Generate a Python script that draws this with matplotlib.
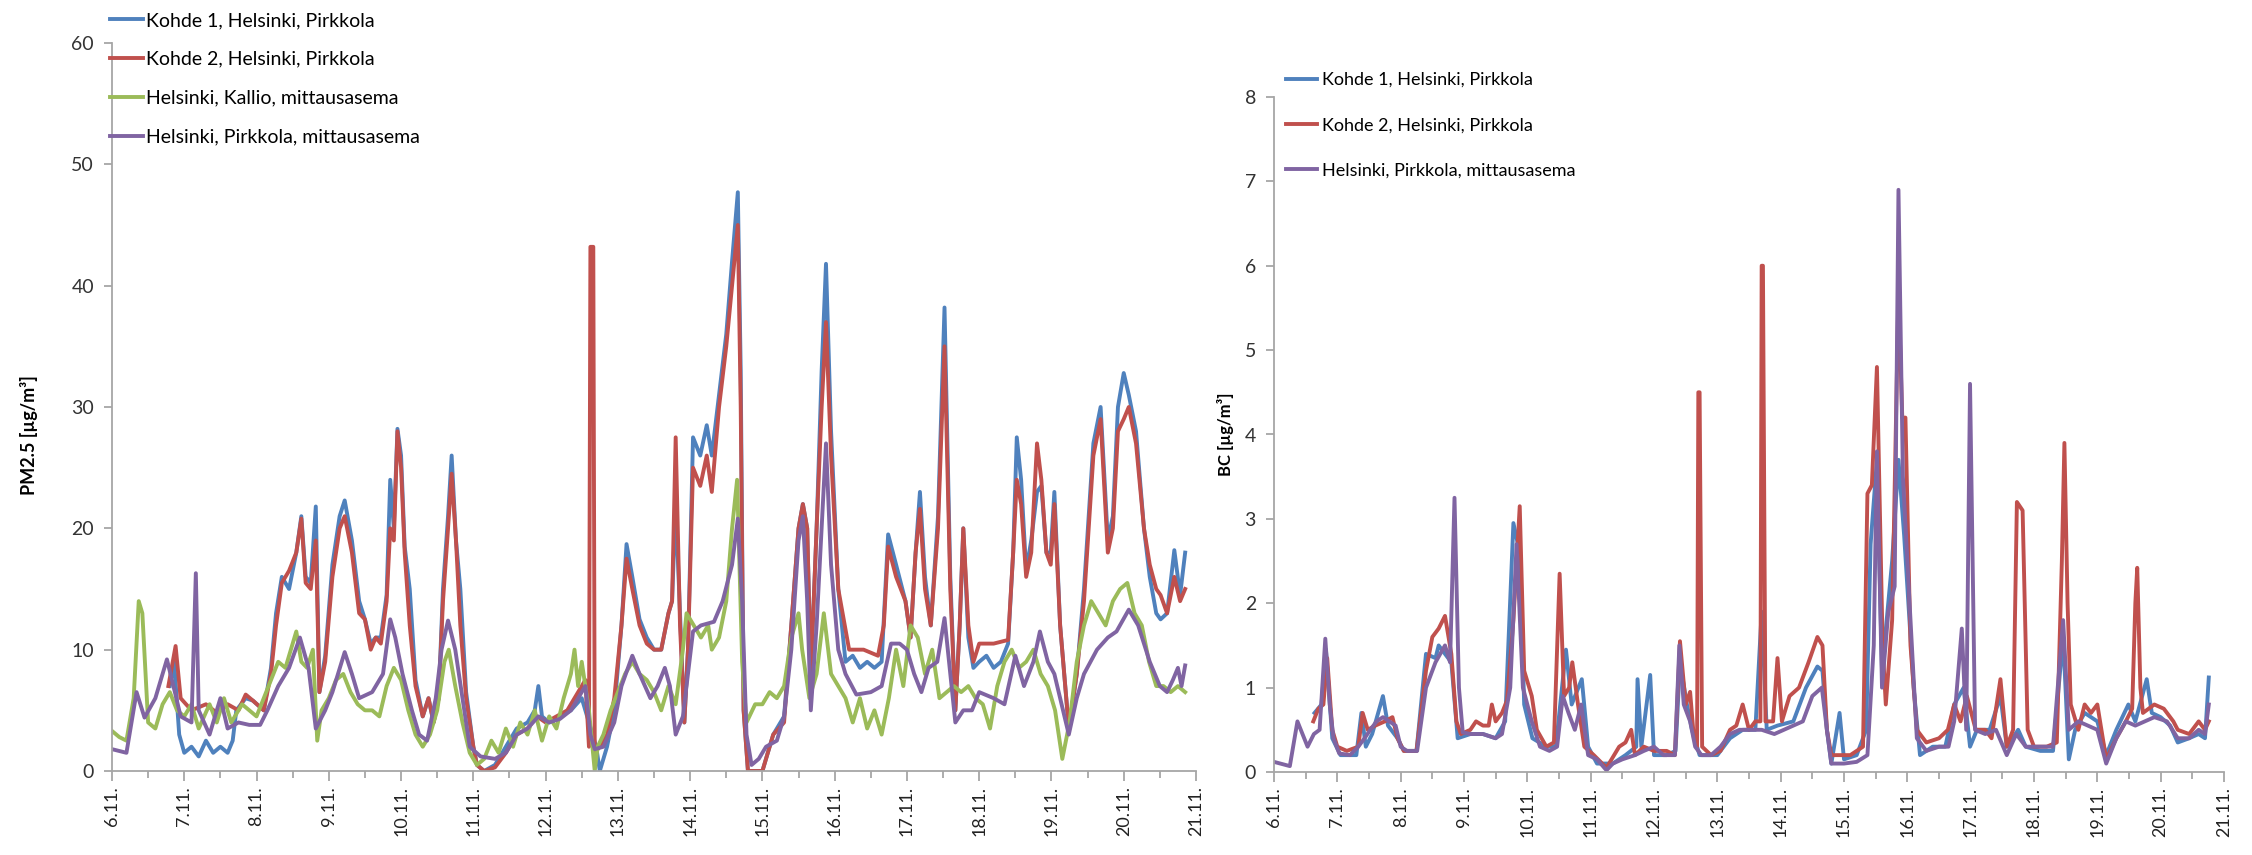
import matplotlib
matplotlib.use("Agg")
import matplotlib.pyplot as plt
from matplotlib.ticker import MultipleLocator

# aika: vuorokausia alkaen 6.11. klo 00
day_labels = [f"{d}.11." for d in range(6, 22)]

labels_pm = ["Kohde 1, Helsinki, Pirkkola", "Kohde 2, Helsinki, Pirkkola",
             "Helsinki, Kallio, mittausasema", "Helsinki, Pirkkola, mittausasema"]
labels_bc = ["Kohde 1, Helsinki, Pirkkola", "Kohde 2, Helsinki, Pirkkola",
             "Helsinki, Pirkkola, mittausasema"]

# ---- PM2.5 ----
t_k1_pm = [0.8, 0.86, 0.93, 1.0, 1.1, 1.2, 1.3, 1.4, 1.5, 1.6,
           1.67, 1.72, 1.85, 1.95, 2.1, 2.2, 2.27, 2.35, 2.45, 2.55,
           2.62, 2.68, 2.75, 2.82, 2.87, 2.95, 3.05, 3.15, 3.22, 3.32,
           3.42, 3.5, 3.58, 3.65, 3.72, 3.8, 3.85, 3.9, 3.95, 4.0,
           4.05, 4.12, 4.2, 4.3, 4.38, 4.45, 4.52, 4.58, 4.65, 4.7,
           4.76, 4.82, 4.9, 5.0, 5.05, 5.15, 5.3, 5.45, 5.6, 5.75,
           5.85, 5.9, 5.95, 6.05, 6.2, 6.35, 6.5, 6.6, 6.7, 6.75,
           6.85, 6.95, 7.05, 7.12, 7.2, 7.3, 7.4, 7.5, 7.6, 7.7,
           7.75, 7.8, 7.86, 7.92, 7.97, 8.04, 8.14, 8.23, 8.3, 8.4,
           8.5, 8.58, 8.66, 8.7, 8.74, 8.8, 9.0, 9.15, 9.3, 9.4,
           9.5, 9.56, 9.62, 9.67, 9.75, 9.82, 9.88, 9.95, 10.05, 10.15,
           10.25, 10.35, 10.45, 10.55, 10.65, 10.74, 10.85, 10.98, 11.05, 11.12,
           11.18, 11.25, 11.33, 11.43, 11.52, 11.6, 11.67, 11.73, 11.78, 11.85,
           11.92, 12.0, 12.1, 12.2, 12.3, 12.4, 12.47, 12.52, 12.58, 12.65,
           12.72, 12.8, 12.86, 12.93, 12.99, 13.04, 13.12, 13.24, 13.35, 13.45,
           13.58, 13.68, 13.78, 13.85, 13.92, 14.0, 14.07, 14.17, 14.28, 14.36,
           14.45, 14.51, 14.6, 14.7, 14.78, 14.85]
v_k1_pm = [7, 9, 3, 1.5, 2, 1.2, 2.5, 1.5, 2, 1.5,
           2.5, 5, 6, 5.8, 5, 8.5, 13, 16, 15, 18,
           21, 16, 15.5, 21.8, 6.5, 9.5, 17, 21, 22.3, 19,
           14, 12.5, 10.5, 11, 11, 14.5, 24, 20, 28.2, 26,
           18.5, 15, 7.5, 4.5, 6, 4, 6, 15, 21, 26,
           19, 15, 6.5, 2, 0.5, 0, 0.5, 2, 3.5, 4,
           5, 7, 4.5, 4, 4.5, 5, 6, 4, 2, 0,
           2, 5, 12, 18.7, 16, 12.5, 11, 10, 10, 13,
           14, 22, 13, 4, 10, 27.5, 26, 28.5, 26, 31,
           36, 42, 47.7, 33, 5, 0, 0, 3, 4.5, 12,
           20, 22, 20, 8, 20, 33, 41.8, 28, 15, 9,
           9.5, 8.5, 9, 8.5, 9, 19.5, 17, 14, 11, 18,
           23, 16, 12, 21, 38.2, 16, 5, 12, 20, 11,
           8.5, 9, 9.5, 8.5, 9, 10.5, 18, 27.5, 24, 16.5,
           19, 23, 23.5, 18, 18, 23, 12, 3.5, 8, 15,
           27, 30, 19, 21, 30, 32.8, 31, 28, 20, 16,
           13, 12.5, 13, 18.2, 14.5, 18]

t_k2_pm = [0.78, 0.88, 0.95, 1.1, 1.3, 1.45, 1.6, 1.75, 1.85, 1.95,
           2.1, 2.2, 2.27, 2.35, 2.45, 2.55, 2.62, 2.68, 2.75, 2.82,
           2.87, 2.95, 3.05, 3.15, 3.22, 3.32, 3.42, 3.5, 3.58, 3.65,
           3.72, 3.8, 3.85, 3.9, 3.95, 4.0, 4.05, 4.12, 4.2, 4.3,
           4.38, 4.45, 4.52, 4.58, 4.65, 4.7, 4.76, 4.82, 4.9, 5.0,
           5.05, 5.15, 5.3, 5.45, 5.6, 5.75, 5.88, 6.0, 6.15, 6.3,
           6.45, 6.55, 6.6, 6.62, 6.66, 6.68, 6.75, 6.85, 6.95, 7.05,
           7.12, 7.2, 7.3, 7.4, 7.5, 7.6, 7.7, 7.75, 7.8, 7.86,
           7.92, 7.97, 8.04, 8.14, 8.23, 8.3, 8.4, 8.5, 8.58, 8.66,
           8.7, 8.74, 8.8, 9.0, 9.15, 9.3, 9.4, 9.5, 9.56, 9.62,
           9.67, 9.75, 9.82, 9.88, 9.95, 10.05, 10.2, 10.4, 10.6, 10.68,
           10.74, 10.85, 10.98, 11.05, 11.12, 11.18, 11.25, 11.33, 11.43, 11.52,
           11.6, 11.67, 11.73, 11.78, 11.85, 11.92, 12.0, 12.2, 12.4, 12.47,
           12.52, 12.58, 12.65, 12.72, 12.8, 12.86, 12.93, 12.99, 13.04, 13.12,
           13.24, 13.35, 13.45, 13.58, 13.68, 13.78, 13.85, 13.92, 14.0, 14.07,
           14.17, 14.28, 14.36, 14.45, 14.51, 14.6, 14.7, 14.78, 14.85]
v_k2_pm = [7, 10.3, 6, 5, 5.5, 4.8, 5.5, 5, 6.3, 5.8,
           5, 8, 12, 15.5, 16.5, 18, 20.8, 15.5, 15, 19,
           6.5, 9, 16, 20, 21, 18, 13, 12.5, 10, 11,
           10.5, 14, 20, 19, 28, 25, 18, 12, 7, 4.5,
           6, 4, 6, 14, 20, 24.5, 19, 12, 6, 2,
           0.5, 0, 0.3, 1.5, 3, 3.5, 4.5, 4, 4.5, 5,
           6.5, 7.5, 2, 43.2, 43.2, 1.5, 2, 3, 6, 12,
           17.5, 15, 12, 10.5, 10, 10, 13, 14, 27.5, 12,
           4, 10, 25, 23.5, 26, 23, 30, 35, 40, 45,
           30, 5, 0, 0, 3, 4, 12, 20, 22, 20,
           8, 20, 30, 37, 26, 15, 10, 10, 9.5, 12,
           18.5, 16, 14, 11, 18, 21.6, 15, 12, 20, 35,
           15, 5, 12, 20, 12, 9, 10.5, 10.5, 10.8, 18,
           24, 22, 16, 18, 27, 24, 18, 17, 22, 12,
           3.5, 8, 14, 26, 29, 18, 20, 28, 29, 30,
           27, 20, 17, 15, 14.5, 13, 16, 14, 15]

t_kallio_pm = [0, 0.1, 0.2, 0.3, 0.37, 0.42, 0.5, 0.6, 0.7, 0.8,
               0.9, 1.0, 1.1, 1.2, 1.35, 1.45, 1.55, 1.65, 1.8, 1.9,
               2.0, 2.1, 2.2, 2.3, 2.4, 2.5, 2.55, 2.62, 2.7, 2.78,
               2.84, 2.9, 3.0, 3.1, 3.2, 3.3, 3.4, 3.5, 3.6, 3.7,
               3.8, 3.9, 4.0, 4.1, 4.2, 4.3, 4.4, 4.5, 4.6, 4.66,
               4.75, 4.85, 4.95, 5.05, 5.15, 5.25, 5.35, 5.45, 5.55, 5.65,
               5.75, 5.85, 5.95, 6.05, 6.15, 6.25, 6.35, 6.4, 6.45, 6.5,
               6.6, 6.68, 6.72, 6.8, 6.9, 7.0, 7.1, 7.2, 7.3, 7.4,
               7.5, 7.6, 7.7, 7.8, 7.9, 7.95, 8.05, 8.15, 8.25, 8.3,
               8.4, 8.5, 8.58, 8.65, 8.72, 8.78, 8.9, 9.0, 9.1, 9.2,
               9.3, 9.4, 9.5, 9.55, 9.65, 9.75, 9.85, 9.95, 10.05, 10.15,
               10.25, 10.35, 10.45, 10.55, 10.65, 10.75, 10.85, 10.95, 11.05, 11.15,
               11.25, 11.35, 11.45, 11.55, 11.65, 11.75, 11.85, 11.95, 12.05, 12.15,
               12.25, 12.35, 12.45, 12.55, 12.65, 12.75, 12.85, 12.95, 13.05, 13.15,
               13.25, 13.35, 13.45, 13.55, 13.65, 13.75, 13.85, 13.95, 14.05, 14.15,
               14.25, 14.35, 14.45, 14.55, 14.65, 14.75, 14.85]
v_kallio_pm = [3.3, 2.8, 2.5, 6, 14, 13, 4, 3.5, 5.5, 6.5,
               5, 4.5, 5.5, 3.5, 5.5, 4, 6, 4, 5.5, 5,
               4.5, 6, 7.5, 9, 8.5, 10.5, 11.5, 9, 8.5, 10,
               2.5, 5, 6, 7.5, 8, 6.5, 5.5, 5, 5, 4.5,
               7, 8.5, 7.5, 5, 3, 2, 3, 5, 9, 10,
               7, 4, 1.5, 0.5, 1, 2.5, 1.5, 3.5, 2, 4,
               3, 5, 2.5, 4.5, 3.5, 6, 8, 10, 7, 9,
               5, 0, 2, 3, 5, 6.5, 8, 9, 8, 7.5,
               6.5, 5, 7, 5.5, 10, 13, 12, 11, 12, 10,
               11, 14, 20, 24, 9, 4, 5.5, 5.5, 6.5, 6,
               7, 11, 13, 10, 6, 8, 13, 8, 7, 6,
               4, 6, 3.5, 5, 3, 6, 10, 7, 12, 11,
               8, 10, 6, 6.5, 7, 6.5, 7, 6, 5.5, 3.5,
               7, 9, 10, 8.5, 9, 10, 8, 7, 5, 1,
               4, 9, 12, 14, 13, 12, 14, 15, 15.5, 13,
               12, 9, 7, 7, 6.5, 7, 6.5]

t_pirkkola_pm = [0, 0.2, 0.34, 0.45, 0.6, 0.76, 0.85, 0.95, 1.1, 1.16,
                 1.2, 1.35, 1.5, 1.6, 1.75, 1.9, 2.05, 2.15, 2.3, 2.45,
                 2.6, 2.72, 2.82, 2.95, 3.05, 3.22, 3.32, 3.42, 3.6, 3.75,
                 3.85, 3.92, 4.02, 4.15, 4.25, 4.36, 4.48, 4.56, 4.65, 4.75,
                 4.85, 4.95, 5.1, 5.3, 5.45, 5.6, 5.75, 5.9, 6.05, 6.2,
                 6.35, 6.45, 6.55, 6.62, 6.68, 6.8, 6.95, 7.05, 7.2, 7.3,
                 7.45, 7.55, 7.65, 7.72, 7.8, 7.9, 8.04, 8.15, 8.33, 8.45,
                 8.58, 8.66, 8.72, 8.78, 8.85, 8.95, 9.05, 9.2, 9.3, 9.4,
                 9.5, 9.56, 9.62, 9.67, 9.75, 9.82, 9.88, 9.95, 10.05, 10.15,
                 10.3, 10.5, 10.65, 10.78, 10.9, 11.0, 11.1, 11.2, 11.3, 11.42,
                 11.52, 11.6, 11.67, 11.78, 11.9, 12.0, 12.2, 12.35, 12.5, 12.62,
                 12.75, 12.84, 12.95, 13.04, 13.24, 13.35, 13.45, 13.63, 13.78, 13.9,
                 14.07, 14.2, 14.36, 14.5, 14.6, 14.68, 14.75, 14.8, 14.85]
v_pirkkola_pm = [1.8, 1.5, 6.5, 4.4, 6, 9.2, 7, 4.5, 4, 16.3,
                 5, 3, 6, 3.5, 4, 3.8, 3.8, 5, 7, 8.5,
                 11, 8.5, 3.5, 5, 6.5, 9.8, 8, 6, 6.5, 8,
                 12.5, 11, 8, 5, 3, 2.5, 6, 10, 12.4, 10,
                 6, 2, 1.2, 1, 1.5, 3, 3.5, 4.5, 4, 4.3,
                 5, 6, 7, 3, 1.8, 2, 4, 7, 9.5, 8,
                 6, 7, 8.5, 7, 3, 4.5, 11.5, 12, 12.3, 14,
                 17, 20.8, 14, 3, 0.5, 1, 2, 2.5, 4.5, 10,
                 19, 21, 14, 5, 12, 20, 27, 17, 10, 8,
                 6.3, 6.5, 7, 10.5, 10.5, 10, 8, 6.5, 8.5, 9,
                 12.6, 8, 4, 5, 5, 6.5, 6, 5.5, 9.5, 7,
                 9, 11.5, 9, 8, 3, 6, 8, 10, 11, 11.5,
                 13.3, 12, 9, 7, 6.5, 7.5, 8.5, 7, 8.7]

# ---- BC ----
t_k1_bc = [0.64, 0.75, 0.82, 0.92, 1.05, 1.3, 1.38, 1.45, 1.55, 1.72,
           1.8, 1.95, 2.05, 2.25, 2.4, 2.55, 2.6, 2.7, 2.8, 2.9,
           3.1, 3.3, 3.5, 3.65, 3.78, 3.88, 3.95, 4.08, 4.3, 4.45,
           4.61, 4.7, 4.86, 4.96, 5.1, 5.35, 5.55, 5.72, 5.74, 5.8,
           5.94, 6.0, 6.2, 6.34, 6.41, 6.52, 6.6, 6.72, 7.0, 7.2,
           7.4, 7.6, 7.7, 7.78, 7.95, 8.2, 8.4, 8.58, 8.66, 8.73,
           8.8, 8.93, 9.0, 9.2, 9.35, 9.42, 9.52, 9.6, 9.76, 9.86,
           9.95, 10.1, 10.2, 10.4, 10.6, 10.74, 10.89, 10.99, 11.1, 11.3,
           11.47, 11.57, 11.75, 11.87, 12.1, 12.3, 12.46, 12.55, 12.65, 12.8,
           13.0, 13.14, 13.3, 13.49, 13.6, 13.78, 13.86, 14.0, 14.15, 14.27,
           14.45, 14.6, 14.7, 14.76]
v_k1_bc = [0.7, 0.8, 1.45, 0.4, 0.2, 0.2, 0.7, 0.3, 0.45, 0.9,
           0.55, 0.4, 0.25, 0.25, 1.4, 1.35, 1.5, 1.4, 1.3, 0.4,
           0.45, 0.45, 0.4, 0.6, 2.95, 2.6, 0.8, 0.4, 0.3, 0.3,
           1.45, 0.8, 1.1, 0.3, 0.1, 0.1, 0.2, 0.3, 1.1, 0.3,
           1.15, 0.2, 0.2, 0.25, 1.3, 0.8, 0.5, 0.2, 0.2, 0.4,
           0.5, 0.5, 1.9, 0.5, 0.55, 0.6, 1.0, 1.25, 1.2, 0.5,
           0.1, 0.7, 0.15, 0.2, 0.5, 2.7, 3.7, 1.2, 2.5, 3.7,
           2.8, 1.0, 0.2, 0.3, 0.3, 0.8, 1.0, 0.3, 0.5, 0.5,
           0.9, 0.3, 0.5, 0.3, 0.25, 0.25, 1.6, 0.15, 0.5, 0.7,
           0.6, 0.2, 0.5, 0.8, 0.6, 1.1, 0.7, 0.65, 0.55, 0.35,
           0.4, 0.45, 0.4, 1.12]

t_k2_bc = [0.62, 0.7, 0.78, 0.84, 0.92, 1.0, 1.15, 1.33, 1.4, 1.48,
           1.6, 1.75, 1.87, 1.95, 2.05, 2.25, 2.4, 2.5, 2.6, 2.7,
           2.8, 2.88, 2.95, 3.1, 3.19, 3.3, 3.39, 3.44, 3.5, 3.6,
           3.68, 3.78, 3.88, 3.95, 4.07, 4.15, 4.3, 4.42, 4.51, 4.58,
           4.66, 4.71, 4.8, 4.9, 5.05, 5.25, 5.45, 5.55, 5.64, 5.7,
           5.84, 6.0, 6.2, 6.33, 6.41, 6.5, 6.57, 6.63, 6.68, 6.7,
           6.72, 6.76, 6.9, 7.05, 7.2, 7.3, 7.4, 7.5, 7.6, 7.68,
           7.7, 7.72, 7.76, 7.88, 7.95, 8.02, 8.14, 8.29, 8.44, 8.58,
           8.66, 8.73, 8.8, 9.1, 9.3, 9.37, 9.44, 9.52, 9.61, 9.66,
           9.76, 9.86, 9.92, 9.97, 10.05, 10.15, 10.3, 10.5, 10.64, 10.74,
           10.84, 10.94, 11.08, 11.23, 11.33, 11.47, 11.57, 11.67, 11.73, 11.82,
           11.9, 12.0, 12.2, 12.36, 12.44, 12.48, 12.53, 12.58, 12.7, 12.8,
           12.9, 13.0, 13.14, 13.3, 13.45, 13.55, 13.6, 13.63, 13.68, 13.72,
           13.9, 14.05, 14.2, 14.27, 14.45, 14.6, 14.7, 14.76]
v_k2_bc = [0.6, 0.75, 0.8, 1.35, 0.5, 0.3, 0.25, 0.3, 0.7, 0.5,
           0.55, 0.6, 0.65, 0.4, 0.25, 0.25, 1.2, 1.6, 1.7, 1.85,
           1.4, 0.6, 0.45, 0.5, 0.6, 0.55, 0.55, 0.8, 0.6, 0.7,
           0.85, 1.8, 3.15, 1.2, 0.9, 0.5, 0.3, 0.35, 2.35, 0.9,
           1.0, 1.3, 0.8, 0.3, 0.2, 0.05, 0.3, 0.35, 0.5, 0.2,
           0.3, 0.25, 0.25, 0.2, 1.55, 0.8, 0.95, 0.4, 0.3, 4.5,
           4.5, 0.3, 0.2, 0.25, 0.5, 0.55, 0.8, 0.5, 0.6, 0.6,
           6.0, 6.0, 0.6, 0.6, 1.35, 0.6, 0.9, 1.0, 1.3, 1.6,
           1.5, 0.5, 0.2, 0.2, 0.3, 3.3, 3.4, 4.8, 1.5, 0.8,
           1.8, 5.7, 4.2, 4.2, 1.5, 0.5, 0.35, 0.4, 0.5, 0.8,
           0.6, 0.9, 0.5, 0.5, 0.4, 1.1, 0.3, 0.5, 3.2, 3.1,
           0.5, 0.3, 0.3, 0.35, 2.5, 3.9, 2.0, 0.8, 0.5, 0.8,
           0.7, 0.8, 0.15, 0.4, 0.6, 0.75, 2.0, 2.42, 1.0, 0.7,
           0.8, 0.75, 0.6, 0.5, 0.45, 0.6, 0.5, 0.6]

t_pirkkola_bc = [0, 0.1, 0.25, 0.37, 0.45, 0.53, 0.63, 0.72, 0.81, 0.88,
                 0.94, 1.03, 1.2, 1.33, 1.43, 1.52, 1.62, 1.72, 1.82, 1.92,
                 2.0, 2.1, 2.26, 2.4, 2.55, 2.7, 2.78, 2.85, 2.92, 2.98,
                 3.1, 3.3, 3.5, 3.6, 3.73, 3.83, 3.93, 4.07, 4.2, 4.35,
                 4.47, 4.56, 4.65, 4.75, 4.85, 4.96, 5.1, 5.25, 5.35, 5.5,
                 5.7, 5.84, 6.0, 6.15, 6.33, 6.4, 6.47, 6.57, 6.65, 6.75,
                 6.9, 7.05, 7.2, 7.35, 7.5, 7.7, 7.9, 8.05, 8.2, 8.35,
                 8.5, 8.65, 8.73, 8.8, 9.0, 9.2, 9.37, 9.47, 9.52, 9.6,
                 9.7, 9.8, 9.86, 9.93, 10.05, 10.15, 10.3, 10.5, 10.65, 10.74,
                 10.86, 10.93, 10.99, 11.07, 11.23, 11.4, 11.57, 11.72, 11.87, 12.1,
                 12.3, 12.46, 12.55, 12.7, 12.85, 13.0, 13.14, 13.3, 13.45, 13.6,
                 13.75, 13.9, 14.1, 14.27, 14.45, 14.6, 14.7, 14.76]
v_pirkkola_bc = [0.12, 0.1, 0.07, 0.6, 0.45, 0.3, 0.45, 0.5, 1.58, 0.8,
                 0.4, 0.22, 0.2, 0.3, 0.4, 0.5, 0.6, 0.65, 0.6, 0.55,
                 0.3, 0.25, 0.25, 1.0, 1.3, 1.5, 1.3, 3.25, 1.0, 0.47,
                 0.45, 0.45, 0.4, 0.45, 1.0, 2.7, 1.0, 0.6, 0.3, 0.25,
                 0.3, 0.9, 0.7, 0.5, 0.8, 0.2, 0.15, 0.02, 0.1, 0.15,
                 0.2, 0.25, 0.3, 0.2, 0.2, 1.5, 0.8, 0.6, 0.3, 0.2,
                 0.2, 0.3, 0.45, 0.5, 0.5, 0.5, 0.45, 0.5, 0.55, 0.6,
                 0.9, 1.0, 0.5, 0.1, 0.1, 0.12, 0.2, 1.5, 3.8, 1.0,
                 1.9, 2.2, 6.9, 3.5, 1.8, 0.4, 0.25, 0.3, 0.3, 0.6,
                 1.7, 0.5, 4.6, 0.5, 0.45, 0.5, 0.2, 0.45, 0.3, 0.3,
                 0.3, 1.8, 0.5, 0.6, 0.55, 0.5, 0.1, 0.4, 0.6, 0.55,
                 0.6, 0.65, 0.6, 0.4, 0.4, 0.5, 0.45, 0.8]

c_blue = "#4f81bd"
c_red = "#c0504d"
c_green = "#9bbb59"
c_purple = "#8064a2"
grey = "#a6a6a6"

plt.rcParams['font.family'] = ['Lato', 'DejaVu Sans']

fig = plt.figure(figsize=(22.52, 8.55), dpi=100)
ax1 = fig.add_axes([112 / 2252, 84 / 855, 1084 / 2252, 728 / 855])
ax2 = fig.add_axes([1274 / 2252, 83 / 855, 950 / 2252, 675 / 855])


def style(ax, ymax):
    ax.set_xlim(0, 15)
    ax.set_ylim(0, ymax)
    for s in ['top', 'right']:
        ax.spines[s].set_visible(False)
    for s in ['left', 'bottom']:
        ax.spines[s].set_color(grey)
        ax.spines[s].set_linewidth(1.3)
    ax.set_xticks(range(16))
    ax.set_xticklabels(day_labels, rotation=90)
    ax.xaxis.set_minor_locator(MultipleLocator(0.5))
    ax.tick_params(axis='x', which='major', length=7, width=1.3, color=grey,
                   pad=4, labelsize=13, labelcolor='#222222')
    ax.tick_params(axis='x', which='minor', length=5, width=1.3, color=grey)
    ax.tick_params(axis='y', length=6, width=1.3, color=grey, pad=7,
                   labelsize=14, labelcolor='#333333')


lw = 2.8
ax1.plot(t_k1_pm, v_k1_pm, color=c_blue, lw=lw, label=labels_pm[0])
ax1.plot(t_k2_pm, v_k2_pm, color=c_red, lw=lw, label=labels_pm[1])
ax1.plot(t_kallio_pm, v_kallio_pm, color=c_green, lw=lw, label=labels_pm[2])
ax1.plot(t_pirkkola_pm, v_pirkkola_pm, color=c_purple, lw=lw, label=labels_pm[3])
style(ax1, 60)
ax1.set_yticks(range(0, 61, 10))

ax2.plot(t_k1_bc, v_k1_bc, color=c_blue, lw=lw, label=labels_bc[0])
ax2.plot(t_k2_bc, v_k2_bc, color=c_red, lw=lw, label=labels_bc[1])
ax2.plot(t_pirkkola_bc, v_pirkkola_bc, color=c_purple, lw=lw, label=labels_bc[2])
style(ax2, 8)
ax2.set_yticks(range(0, 9))

ax1.legend(loc='upper left', bbox_to_anchor=(110 / 2252, 1 - 12 / 855),
           bbox_transform=fig.transFigure, frameon=False, fontsize=14,
           handlelength=1.7, handletextpad=0.15, labelspacing=1.12,
           borderpad=0, borderaxespad=0)
ax2.legend(loc='upper left', bbox_to_anchor=(1286 / 2252, 1 - 72 / 855),
           bbox_transform=fig.transFigure, frameon=False, fontsize=13,
           handlelength=1.7, handletextpad=0.3, labelspacing=1.62,
           borderpad=0, borderaxespad=0)

fig.text(29 / 2252, 1 - 435 / 855, "PM2.5 [µg/m³]", rotation=90,
         ha='center', va='center', fontsize=13, fontweight='bold')
fig.text(1225 / 2252, 1 - 434 / 855, "BC [µg/m³]", rotation=90,
         ha='center', va='center', fontsize=12, fontweight='bold')

fig.savefig("out.png", dpi=100)
